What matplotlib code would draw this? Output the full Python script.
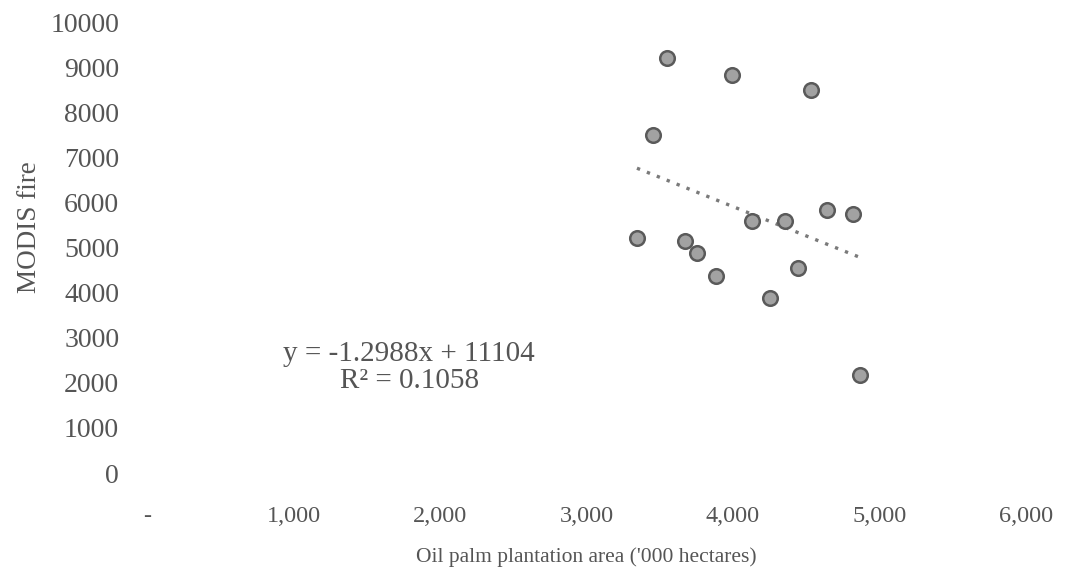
import numpy as np
import matplotlib.pyplot as plt

# data
plantation_area = [3549, 3993, 4532, 3454, 3345, 3672, 3754, 3884,
                   4130, 4355, 4642, 4819, 4444, 4253, 4867]
modis_fire = [9200, 8830, 8490, 7490, 5210, 5140, 4880, 4370,
              5590, 5590, 5830, 5740, 4550, 3880, 2170]

slope = -1.2988
intercept = 11104
r_squared = 0.1058

x_ticks = [0, 1000, 2000, 3000, 4000, 5000, 6000]
x_tick_labels = ["-", "1,000", "2,000", "3,000", "4,000", "5,000", "6,000"]
y_ticks = list(range(0, 10001, 1000))

plt.rcParams["font.family"] = ["Liberation Serif", "DejaVu Serif"]
txt = "#555555"

fig = plt.figure(figsize=(10.77, 5.70), dpi=100)
ax = fig.add_axes([0.1365, 0.170, 0.816, 0.7914])

ax.scatter(plantation_area, modis_fire, s=110, c="#a2a2a2",
           edgecolors="#5a5a5a", linewidths=1.8, zorder=3)

# linear trendline over the data range
xs = np.array([min(plantation_area), max(plantation_area)])
ax.plot(xs, slope * xs + intercept, ls=(0, (1, 2.2)), lw=2.4,
        color="#7a7a7a", zorder=2)

ax.text(1790, 2330,
        f"y = {slope}x + {intercept}\nR\u00b2 = {r_squared}",
        ha="center", va="center", fontsize=21, color=txt,
        linespacing=1.05)

ax.set_xlim(0, 6000)
ax.set_ylim(0, 10000)
ax.set_xticks(x_ticks)
ax.set_xticklabels(x_tick_labels)
ax.set_yticks(y_ticks)
ax.tick_params(axis="both", length=0, colors=txt)
ax.tick_params(axis="y", labelsize=20, pad=20)
ax.tick_params(axis="x", labelsize=17.5, pad=24)
for s in ax.spines.values():
    s.set_visible(False)

ax.set_xlabel("Oil palm plantation area ('000 hectares)", fontsize=15.5,
              color=txt, labelpad=14)
ax.set_ylabel("MODIS fire", fontsize=19.5, color=txt)
ax.yaxis.set_label_coords(-0.12, 0.545)

fig.savefig("out.png", dpi=100)
